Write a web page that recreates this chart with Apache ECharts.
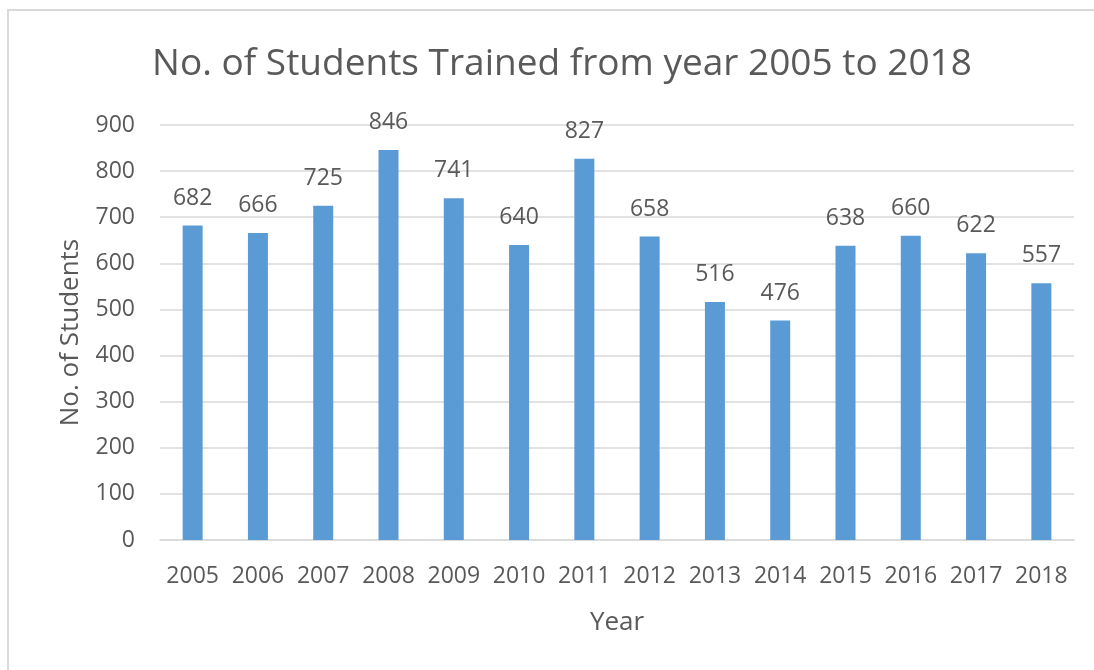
<!DOCTYPE html>
<html><head><meta charset="utf-8">
<script src="https://cdn.jsdelivr.net/npm/echarts@6/dist/echarts.min.js"></script>
<style>html,body{margin:0;padding:0;background:#fff}#c{width:1094px;height:670px}</style>
</head><body><div id="c"></div>
<script>
const years = ['2005','2006','2007','2008','2009','2010','2011','2012','2013','2014','2015','2016','2017','2018'];
const students = [682,666,725,846,741,640,827,658,516,476,638,660,622,557];
const yTicks = {min:0, max:900, interval:100};
const titleText = 'No. of Students Trained from year 2005 to 2018';
const xName = 'Year';
const yName = 'No. of Students';

const font = '"Open Sans", "Noto Sans", sans-serif';
const chart = echarts.init(document.getElementById('c'), null, {renderer:'canvas'});
chart.setOption({
  animation:false,
  textStyle:{fontFamily:font},
  graphic:[{type:'rect', shape:{x:8,y:10,width:1200,height:800}, style:{fill:'none', stroke:'#D9D9D9', lineWidth:2}, z:-1}],
  title:{text:titleText, left:557, top:41, textAlign:'center',
    textStyle:{fontFamily:font, fontSize:37, fontWeight:'normal', color:'#595959'}},
  grid:{left:160, right:20, top:125, bottom:130, containLabel:false},
  xAxis:{type:'category', data:years, name:xName, nameLocation:'middle', nameGap:70,
    nameTextStyle:{fontFamily:font, fontSize:26, color:'#595959'},
    axisLine:{lineStyle:{color:'#D9D9D9', width:1.5}}, axisTick:{show:false},
    axisLabel:{fontFamily:font, fontSize:23, color:'#595959', margin:25, interval:0}},
  yAxis:{type:'value', min:yTicks.min, max:yTicks.max, interval:yTicks.interval,
    name:yName, nameLocation:'middle', nameGap:76,
    nameTextStyle:{fontFamily:font, fontSize:26, color:'#595959'},
    axisLine:{show:false}, axisTick:{show:false},
    splitLine:{lineStyle:{color:'#D9D9D9', width:1.5}},
    axisLabel:{fontFamily:font, fontSize:23, color:'#595959', margin:25}},
  series:[{type:'bar', data:students, barWidth:20, itemStyle:{color:'#5B9BD5'},
    label:{show:true, position:'top', distance:16, fontFamily:font, fontSize:23, color:'#595959'}}]
});
</script></body></html>
